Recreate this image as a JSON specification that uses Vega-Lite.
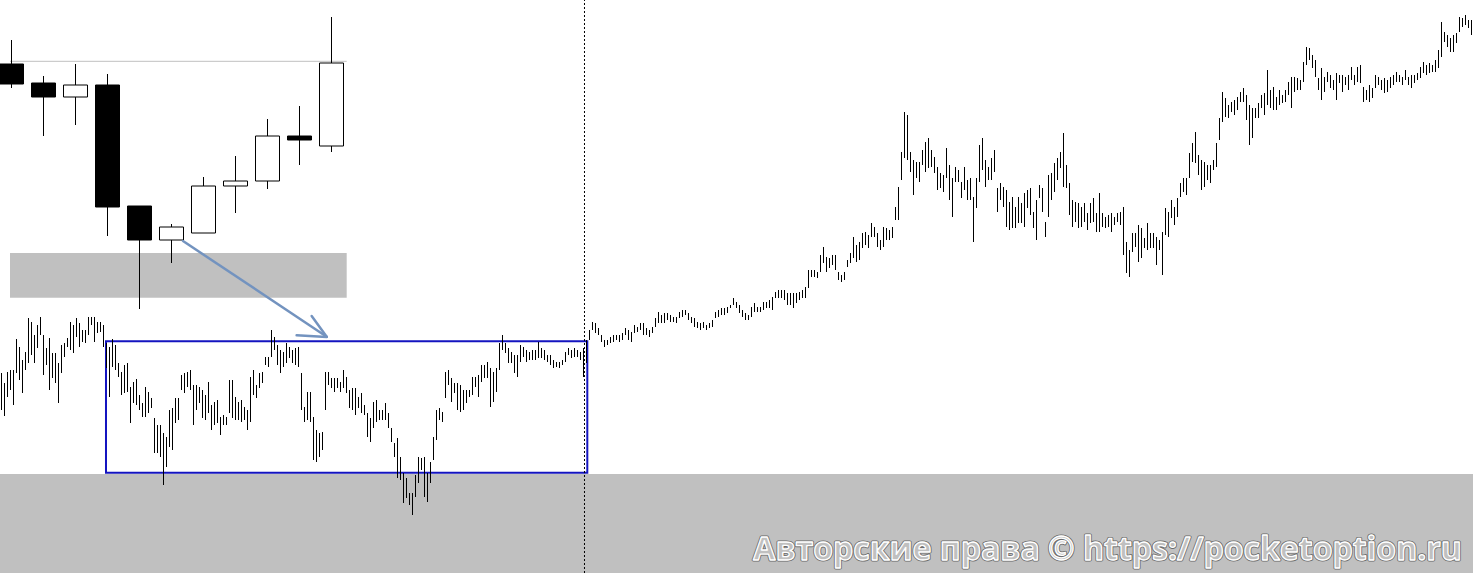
{
"$schema":"https://vega.github.io/schema/vega-lite/v6.json",
"width":1473,"height":573,"autosize":"none","padding":0,
"background":"white",
"config":{"view":{"stroke":null},"scale":{"continuousPadding":0}},
"datasets":{
"bars":[
{"t":0,"h":200,"l":163},{"t":1,"h":190,"l":157},{"t":2,"h":201,"l":176},{"t":3,"h":203,"l":183},{"t":4,"h":203,"l":168},{"t":5,"h":234,"l":200},{"t":6,"h":226,"l":193},{"t":7,"h":213,"l":180},{"t":8,"h":221,"l":203},{"t":9,"h":255,"l":210},
{"t":10,"h":251,"l":218},{"t":11,"h":238,"l":210},{"t":12,"h":248,"l":225},{"t":13,"h":256,"l":238},{"t":14,"h":238,"l":198},{"t":15,"h":225,"l":208},{"t":16,"h":235,"l":183},{"t":17,"h":220,"l":195},{"t":18,"h":220,"l":190},{"t":19,"h":210,"l":170},
{"t":20,"h":228,"l":200},{"t":21,"h":230,"l":216},{"t":22,"h":235,"l":226},{"t":23,"h":251,"l":223},{"t":24,"h":248,"l":220},{"t":25,"h":255,"l":236},{"t":26,"h":250,"l":226},{"t":27,"h":243,"l":231},{"t":28,"h":243,"l":230},{"t":29,"h":256,"l":238},
{"t":30,"h":256,"l":248},{"t":31,"h":256,"l":231},{"t":32,"h":251,"l":240},{"t":33,"h":251,"l":241},{"t":34,"h":248,"l":226},{"t":35,"h":230,"l":205},{"t":36,"h":226,"l":176},{"t":37,"h":234,"l":206},{"t":38,"h":228,"l":203},{"t":39,"h":210,"l":196},
{"t":40,"h":201,"l":178},{"t":41,"h":208,"l":180},{"t":42,"h":210,"l":181},{"t":43,"h":186,"l":150},{"t":44,"h":191,"l":170},{"t":45,"h":194,"l":168},{"t":46,"h":178,"l":163},{"t":47,"h":170,"l":156},{"t":48,"h":186,"l":156},{"t":49,"h":181,"l":160},
{"t":50,"h":175,"l":165},{"t":51,"h":155,"l":120},{"t":52,"h":148,"l":120},{"t":53,"h":148,"l":116},{"t":54,"h":140,"l":88},{"t":55,"h":136,"l":106},{"t":56,"h":163,"l":126},{"t":57,"h":165,"l":123},{"t":58,"h":175,"l":150},{"t":59,"h":175,"l":153},
{"t":60,"h":198,"l":183},{"t":61,"h":200,"l":180},{"t":62,"h":201,"l":186},{"t":63,"h":203,"l":183},{"t":64,"h":188,"l":148},{"t":65,"h":188,"l":163},{"t":66,"h":186,"l":170},{"t":67,"h":183,"l":155},{"t":68,"h":178,"l":153},{"t":69,"h":191,"l":160},
{"t":70,"h":168,"l":143},{"t":71,"h":171,"l":148},{"t":72,"h":173,"l":150},{"t":73,"h":156,"l":138},{"t":74,"h":158,"l":148},{"t":75,"h":156,"l":148},{"t":76,"h":193,"l":160},{"t":77,"h":193,"l":155},{"t":78,"h":176,"l":153},{"t":79,"h":171,"l":153},
{"t":80,"h":173,"l":151},{"t":81,"h":166,"l":153},{"t":82,"h":163,"l":143},{"t":83,"h":196,"l":151},{"t":84,"h":203,"l":178},{"t":85,"h":188,"l":175},{"t":86,"h":200,"l":185},{"t":87,"h":201,"l":190},{"t":88,"h":216,"l":208},{"t":89,"h":216,"l":206},
{"t":90,"h":243,"l":216},{"t":91,"h":236,"l":223},{"t":92,"h":228,"l":208},{"t":93,"h":223,"l":200},{"t":94,"h":221,"l":206},{"t":95,"h":230,"l":210},{"t":96,"h":226,"l":215},{"t":97,"h":223,"l":210},{"t":98,"h":225,"l":208},{"t":99,"h":226,"l":206},
{"t":100,"h":200,"l":163},{"t":101,"h":166,"l":151},{"t":102,"h":181,"l":153},{"t":103,"h":181,"l":151},{"t":104,"h":156,"l":113},{"t":105,"h":143,"l":111},{"t":106,"h":140,"l":116},{"t":107,"h":141,"l":123},{"t":108,"h":201,"l":163},{"t":109,"h":201,"l":188},
{"t":110,"h":195,"l":185},{"t":111,"h":195,"l":181},{"t":112,"h":195,"l":185},{"t":113,"h":191,"l":181},{"t":114,"h":203,"l":185},{"t":115,"h":196,"l":180},{"t":116,"h":183,"l":165},{"t":117,"h":185,"l":163},{"t":118,"h":185,"l":158},{"t":119,"h":176,"l":165},
{"t":120,"h":180,"l":160},{"t":121,"h":168,"l":158},{"t":122,"h":160,"l":136},{"t":123,"h":155,"l":131},{"t":124,"h":171,"l":145},{"t":125,"h":173,"l":151},{"t":126,"h":163,"l":153},{"t":127,"h":163,"l":153},{"t":128,"h":170,"l":153},{"t":129,"h":160,"l":145},
{"t":130,"h":145,"l":131},{"t":131,"h":130,"l":116},{"t":132,"h":135,"l":95},{"t":133,"h":116,"l":93},{"t":134,"h":100,"l":70},{"t":135,"h":95,"l":75},{"t":136,"h":80,"l":68},{"t":137,"h":80,"l":58},{"t":138,"h":98,"l":76},{"t":139,"h":116,"l":90},
{"t":140,"h":115,"l":103},{"t":141,"h":116,"l":76},{"t":142,"h":100,"l":71},{"t":143,"h":111,"l":90},{"t":144,"h":136,"l":113},{"t":145,"h":163,"l":133},{"t":146,"h":165,"l":153},{"t":147,"h":161,"l":151},{"t":148,"h":201,"l":175},{"t":149,"h":203,"l":188},
{"t":150,"h":195,"l":171},{"t":151,"h":190,"l":180},{"t":152,"h":190,"l":163},{"t":153,"h":188,"l":161},{"t":154,"h":183,"l":163},{"t":155,"h":183,"l":170},{"t":156,"h":183,"l":176},{"t":157,"h":196,"l":178},{"t":158,"h":196,"l":186},{"t":159,"h":198,"l":176},
{"t":160,"h":208,"l":191},{"t":161,"h":208,"l":195},{"t":162,"h":211,"l":195},{"t":163,"h":205,"l":166},{"t":164,"h":201,"l":171},{"t":165,"h":205,"l":181},{"t":166,"h":230,"l":203},{"t":167,"h":238,"l":223},{"t":168,"h":230,"l":220},{"t":169,"h":225,"l":210},
{"t":170,"h":221,"l":210},{"t":171,"h":218,"l":200},{"t":172,"h":218,"l":196},{"t":173,"h":228,"l":211},{"t":174,"h":226,"l":216},{"t":175,"h":223,"l":211},{"t":176,"h":221,"l":213},{"t":177,"h":223,"l":213},{"t":178,"h":223,"l":213},{"t":179,"h":231,"l":215},
{"t":180,"h":225,"l":215},{"t":181,"h":223,"l":213},{"t":182,"h":218,"l":211},{"t":183,"h":218,"l":208},{"t":184,"h":213,"l":205},{"t":185,"h":211,"l":206},{"t":186,"h":211,"l":205},{"t":187,"h":213,"l":208},{"t":188,"h":221,"l":211},{"t":189,"h":225,"l":218},
{"t":190,"h":223,"l":215},{"t":191,"h":225,"l":216},{"t":192,"h":223,"l":216},{"t":193,"h":221,"l":213},{"t":194,"h":225,"l":196},{"t":195,"h":233,"l":210},{"t":196,"h":243,"l":233},{"t":197,"h":251,"l":243},{"t":198,"h":250,"l":240},{"t":199,"h":245,"l":238},
{"t":200,"h":238,"l":231},{"t":201,"h":233,"l":226},{"t":202,"h":233,"l":228},{"t":203,"h":236,"l":230},{"t":204,"h":238,"l":231},{"t":205,"h":238,"l":233},{"t":206,"h":238,"l":231},{"t":207,"h":240,"l":233},{"t":208,"h":245,"l":238},{"t":209,"h":243,"l":233},
{"t":210,"h":241,"l":231},{"t":211,"h":248,"l":240},{"t":212,"h":246,"l":241},{"t":213,"h":250,"l":243},{"t":214,"h":250,"l":238},{"t":215,"h":245,"l":238},{"t":216,"h":243,"l":236},{"t":217,"h":246,"l":240},{"t":218,"h":255,"l":246},{"t":219,"h":261,"l":250},
{"t":220,"h":258,"l":250},{"t":221,"h":260,"l":250},{"t":222,"h":260,"l":253},{"t":223,"h":258,"l":251},{"t":224,"h":256,"l":251},{"t":225,"h":256,"l":250},{"t":226,"h":261,"l":255},{"t":227,"h":263,"l":256},{"t":228,"h":263,"l":258},{"t":229,"h":260,"l":253},
{"t":230,"h":256,"l":250},{"t":231,"h":255,"l":246},{"t":232,"h":251,"l":245},{"t":233,"h":250,"l":243},{"t":234,"h":251,"l":245},{"t":235,"h":248,"l":243},{"t":236,"h":250,"l":245},{"t":237,"h":253,"l":246},{"t":238,"h":261,"l":255},{"t":239,"h":263,"l":256},
{"t":240,"h":265,"l":258},{"t":241,"h":265,"l":258},{"t":242,"h":266,"l":260},{"t":243,"h":268,"l":265},{"t":244,"h":275,"l":268},{"t":245,"h":271,"l":265},{"t":246,"h":268,"l":260},{"t":247,"h":263,"l":256},{"t":248,"h":260,"l":253},{"t":249,"h":258,"l":253},
{"t":250,"h":266,"l":256},{"t":251,"h":270,"l":261},{"t":252,"h":266,"l":261},{"t":253,"h":266,"l":261},{"t":254,"h":271,"l":263},{"t":255,"h":271,"l":265},{"t":256,"h":273,"l":265},{"t":257,"h":276,"l":263},{"t":258,"h":281,"l":275},{"t":259,"h":283,"l":275},
{"t":260,"h":283,"l":275},{"t":261,"h":283,"l":273},{"t":262,"h":280,"l":268},{"t":263,"h":280,"l":268},{"t":264,"h":280,"l":265},{"t":265,"h":280,"l":270},{"t":266,"h":281,"l":273},{"t":267,"h":283,"l":275},{"t":268,"h":286,"l":275},{"t":269,"h":303,"l":285},
{"t":270,"h":303,"l":296},{"t":271,"h":303,"l":296},{"t":272,"h":301,"l":295},{"t":273,"h":318,"l":301},{"t":274,"h":326,"l":310},{"t":275,"h":316,"l":301},{"t":276,"h":315,"l":305},{"t":277,"h":318,"l":308},{"t":278,"h":318,"l":303},{"t":279,"h":301,"l":293},
{"t":280,"h":298,"l":291},{"t":281,"h":301,"l":293},{"t":282,"h":313,"l":306},{"t":283,"h":320,"l":310},{"t":284,"h":336,"l":315},{"t":285,"h":328,"l":311},{"t":286,"h":331,"l":313},{"t":287,"h":340,"l":325},{"t":288,"h":341,"l":328},{"t":289,"h":338,"l":325},
{"t":290,"h":350,"l":336},{"t":291,"h":346,"l":336},{"t":292,"h":340,"l":326},{"t":293,"h":333,"l":323},{"t":294,"h":346,"l":326},{"t":295,"h":345,"l":333},{"t":296,"h":343,"l":333},{"t":297,"h":346,"l":335},{"t":298,"h":366,"l":353},{"t":299,"h":386,"l":353},
{"t":300,"h":421,"l":393},{"t":301,"h":461,"l":415},{"t":302,"h":458,"l":413},{"t":303,"h":421,"l":401},{"t":304,"h":413,"l":378},{"t":305,"h":411,"l":395},{"t":306,"h":411,"l":391},{"t":307,"h":423,"l":408},{"t":308,"h":431,"l":401},{"t":309,"h":435,"l":405},
{"t":310,"h":423,"l":406},{"t":311,"h":416,"l":400},{"t":312,"h":406,"l":383},{"t":313,"h":400,"l":385},{"t":314,"h":398,"l":381},{"t":315,"h":425,"l":395},{"t":316,"h":408,"l":373},{"t":317,"h":395,"l":356},{"t":318,"h":406,"l":391},{"t":319,"h":403,"l":391},
{"t":320,"h":391,"l":375},{"t":321,"h":406,"l":383},{"t":322,"h":393,"l":373},{"t":323,"h":395,"l":373},{"t":324,"h":376,"l":331},{"t":325,"h":395,"l":365},{"t":326,"h":428,"l":391},{"t":327,"h":435,"l":403},{"t":328,"h":413,"l":386},{"t":329,"h":406,"l":393},
{"t":330,"h":415,"l":393},{"t":331,"h":423,"l":401},{"t":332,"h":385,"l":361},{"t":333,"h":390,"l":373},{"t":334,"h":386,"l":366},{"t":335,"h":383,"l":346},{"t":336,"h":371,"l":343},{"t":337,"h":376,"l":345},{"t":338,"h":366,"l":345},{"t":339,"h":376,"l":350},
{"t":340,"h":370,"l":350},{"t":341,"h":380,"l":346},{"t":342,"h":383,"l":365},{"t":343,"h":385,"l":358},{"t":344,"h":361,"l":345},{"t":345,"h":373,"l":333},{"t":346,"h":388,"l":375},{"t":347,"h":385,"l":361},{"t":348,"h":351,"l":336},{"t":349,"h":398,"l":356},
{"t":350,"h":400,"l":373},{"t":351,"h":410,"l":381},{"t":352,"h":415,"l":393},{"t":353,"h":421,"l":405},{"t":354,"h":440,"l":386},{"t":355,"h":408,"l":385},{"t":356,"h":390,"l":358},{"t":357,"h":373,"l":346},{"t":358,"h":371,"l":351},{"t":359,"h":370,"l":345},
{"t":360,"h":366,"l":346},{"t":361,"h":370,"l":351},{"t":362,"h":360,"l":343},{"t":363,"h":370,"l":350},{"t":364,"h":375,"l":351},{"t":365,"h":360,"l":341},{"t":366,"h":380,"l":341},{"t":367,"h":360,"l":346},{"t":368,"h":356,"l":345},{"t":369,"h":358,"l":346},
{"t":370,"h":360,"l":341},{"t":371,"h":356,"l":348},{"t":372,"h":360,"l":351},{"t":373,"h":361,"l":348},{"t":374,"h":366,"l":318},{"t":375,"h":331,"l":300},{"t":376,"h":323,"l":296},{"t":377,"h":340,"l":321},{"t":378,"h":340,"l":326},{"t":379,"h":348,"l":311},
{"t":380,"h":345,"l":315},{"t":381,"h":335,"l":325},{"t":382,"h":350,"l":323},{"t":383,"h":340,"l":325},{"t":384,"h":340,"l":325},{"t":385,"h":336,"l":308},{"t":386,"h":333,"l":323},{"t":387,"h":341,"l":298},{"t":388,"h":365,"l":338},{"t":389,"h":361,"l":336},
{"t":390,"h":373,"l":355},{"t":391,"h":366,"l":348},{"t":392,"h":375,"l":356},{"t":393,"h":390,"l":376},{"t":394,"h":395,"l":381},{"t":395,"h":395,"l":378},{"t":396,"h":420,"l":395},{"t":397,"h":430,"l":411},{"t":398,"h":441,"l":410},{"t":399,"h":418,"l":398},
{"t":400,"h":413,"l":383},{"t":401,"h":411,"l":386},{"t":402,"h":408,"l":393},{"t":403,"h":408,"l":390},{"t":404,"h":413,"l":403},{"t":405,"h":430,"l":406},{"t":406,"h":455,"l":433},{"t":407,"h":481,"l":451},{"t":408,"h":475,"l":456},{"t":409,"h":468,"l":455},
{"t":410,"h":471,"l":461},{"t":411,"h":473,"l":458},{"t":412,"h":476,"l":463},{"t":413,"h":481,"l":471},{"t":414,"h":485,"l":471},{"t":415,"h":478,"l":453},{"t":416,"h":468,"l":428},{"t":417,"h":465,"l":435},{"t":418,"h":465,"l":455},{"t":419,"h":470,"l":455},
{"t":420,"h":478,"l":465},{"t":421,"h":480,"l":458},{"t":422,"h":503,"l":468},{"t":423,"h":483,"l":465},{"t":424,"h":486,"l":463},{"t":425,"h":476,"l":463},{"t":426,"h":483,"l":468},{"t":427,"h":478,"l":470},{"t":428,"h":483,"l":471},{"t":429,"h":491,"l":478},
{"t":430,"h":496,"l":465},{"t":431,"h":496,"l":481},{"t":432,"h":495,"l":483},{"t":433,"h":493,"l":483},{"t":434,"h":511,"l":491},{"t":435,"h":526,"l":508},{"t":436,"h":525,"l":513},{"t":437,"h":518,"l":505},{"t":438,"h":513,"l":496},{"t":439,"h":495,"l":483},
{"t":440,"h":505,"l":473},{"t":441,"h":496,"l":481},{"t":442,"h":501,"l":491},{"t":443,"h":498,"l":485},{"t":444,"h":493,"l":483},{"t":445,"h":500,"l":473},{"t":446,"h":498,"l":490},{"t":447,"h":498,"l":481},{"t":448,"h":496,"l":488},{"t":449,"h":498,"l":483},
{"t":450,"h":506,"l":493},{"t":451,"h":498,"l":488},{"t":452,"h":506,"l":491},{"t":453,"h":508,"l":490},{"t":454,"h":486,"l":471},{"t":455,"h":483,"l":473},{"t":456,"h":488,"l":471},{"t":457,"h":485,"l":475},{"t":458,"h":498,"l":485},{"t":459,"h":496,"l":488},
{"t":460,"h":493,"l":483},{"t":461,"h":495,"l":480},{"t":462,"h":493,"l":481},{"t":463,"h":496,"l":485},{"t":464,"h":498,"l":488},{"t":465,"h":501,"l":491},{"t":466,"h":498,"l":491},{"t":467,"h":496,"l":488},{"t":468,"h":503,"l":493},{"t":469,"h":496,"l":488},
{"t":470,"h":498,"l":485},{"t":471,"h":498,"l":490},{"t":472,"h":500,"l":493},{"t":473,"h":506,"l":495},{"t":474,"h":511,"l":500},{"t":475,"h":508,"l":498},{"t":476,"h":510,"l":500},{"t":477,"h":508,"l":501},{"t":478,"h":513,"l":501},{"t":479,"h":523,"l":505},
{"t":480,"h":551,"l":516},{"t":481,"h":541,"l":531},{"t":482,"h":538,"l":526},{"t":483,"h":535,"l":521},{"t":484,"h":538,"l":521},{"t":485,"h":540,"l":530},{"t":486,"h":556,"l":541},{"t":487,"h":555,"l":546},{"t":488,"h":558,"l":548},{"t":489,"h":553,"l":545},
{"t":490,"h":553,"l":538}
],
"candles":[
{"i":0,"o":509,"h":533,"l":485,"cl":489},{"i":1,"o":490,"h":497,"l":437,"cl":476},{"i":2,"o":476,"h":509,"l":448,"cl":488},{"i":3,"o":488,"h":499,"l":337,"cl":366},{"i":4,"o":367,"h":367,"l":264,"cl":333},{"i":5,"o":333,"h":349,"l":310,"cl":346},{"i":6,"o":340,"h":396,"l":340,"cl":387},{"i":7,"o":387,"h":417,"l":360,"cl":392},{"i":8,"o":392,"h":454,"l":384,"cl":437},{"i":9,"o":437,"h":467,"l":408,"cl":433},{"i":10,"o":427,"h":556,"l":421,"cl":510}
],
"arrow":[
{"i0":5.36,"p0":332,"i1":9.85,"p1":236.3},{"i0":9.38,"p0":257,"i1":9.85,"p1":236.3},{"i0":8.91,"p0":237.7,"i1":9.85,"p1":236}
]
},
"layer":[
{"layer":[
{"data":{"values":[{"t0":-0.5,"t1":490.5,"lo":0,"hi":99}]},
"mark":{"type":"rect","fill":"#c0c0c0"},
"encoding":{"x":{"field":"t0","type":"quantitative","axis":null,"scale":{"domain":[-0.5,490.5],"nice":false,"zero":false,"padding":0}},"x2":{"field":"t1"},"y":{"field":"lo","type":"quantitative","axis":null,"scale":{"domain":[0,573],"nice":false,"zero":false,"padding":0}},"y2":{"field":"hi"}}},
{"data":{"values":[{"t0":34.83,"t1":195.27,"lo":100.3,"hi":231.7}]},
"mark":{"type":"rect","fillOpacity":0,"stroke":"#1414c0","strokeWidth":2},
"encoding":{"x":{"field":"t0","type":"quantitative","axis":null,"scale":{"domain":[-0.5,490.5],"nice":false,"zero":false,"padding":0}},"x2":{"field":"t1"},"y":{"field":"lo","type":"quantitative","axis":null,"scale":{"domain":[0,573],"nice":false,"zero":false,"padding":0}},"y2":{"field":"hi"}}},
{"data":{"name":"bars"},
"mark":{"type":"rule","color":"black","strokeWidth":1},
"encoding":{"x":{"field":"t","type":"quantitative","axis":null,"scale":{"domain":[-0.5,490.5],"nice":false,"zero":false,"padding":0}},"y":{"field":"l","type":"quantitative","axis":null,"scale":{"domain":[0,573],"nice":false,"zero":false,"padding":0}},"y2":{"field":"h"}}},
{"data":{"values":[{"t":194.33,"lo":0,"hi":573}]},
"mark":{"type":"rule","color":"black","strokeWidth":1,"strokeDash":[2,2]},
"encoding":{"x":{"field":"t","type":"quantitative","axis":null,"scale":{"domain":[-0.5,490.5],"nice":false,"zero":false,"padding":0}},"y":{"field":"lo","type":"quantitative","axis":null,"scale":{"domain":[0,573],"nice":false,"zero":false,"padding":0}},"y2":{"field":"hi"}}},
{"data":{"values":[{"t":486.8,"p":13,"label":"Авторские права © https://pocketoption.ru"}]},
"mark":{"type":"text","align":"right","baseline":"alphabetic","font":"Open Sans","fontWeight":"bold","fontSize":32,"fill":"#6a6a6a","stroke":"#6a6a6a","strokeWidth":3,"strokeJoin":"round"},
"encoding":{"x":{"field":"t","type":"quantitative","axis":null,"scale":{"domain":[-0.5,490.5],"nice":false,"zero":false,"padding":0}},"y":{"field":"p","type":"quantitative","axis":null,"scale":{"domain":[0,573],"nice":false,"zero":false,"padding":0}},"text":{"field":"label"}}},
{"data":{"values":[{"t":486.8,"p":13,"label":"Авторские права © https://pocketoption.ru"}]},
"mark":{"type":"text","align":"right","baseline":"alphabetic","font":"Open Sans","fontWeight":"bold","fontSize":32,"fill":"#c0c0c0","stroke":"white","strokeWidth":1.3,"strokeJoin":"round"},
"encoding":{"x":{"field":"t","type":"quantitative","axis":null,"scale":{"domain":[-0.5,490.5],"nice":false,"zero":false,"padding":0}},"y":{"field":"p","type":"quantitative","axis":null,"scale":{"domain":[0,573],"nice":false,"zero":false,"padding":0}},"text":{"field":"label"}}}
]},
{"layer":[
{"data":{"values":[{"i0":-0.047,"i1":10.475,"p":511.7}]},
"mark":{"type":"rule","color":"#c0c0c0","strokeWidth":1},
"encoding":{"x":{"field":"i0","type":"quantitative","axis":null,"scale":{"domain":[-0.359375,45.671875],"nice":false,"zero":false,"padding":0}},"x2":{"field":"i1"},"y":{"field":"p","type":"quantitative","axis":null,"scale":{"domain":[0,573],"nice":false,"zero":false,"padding":0}}}},
{"data":{"values":[{"i0":-0.047,"i1":10.475,"lo":275.3,"hi":320}]},
"mark":{"type":"rect","fill":"#c0c0c0"},
"encoding":{"x":{"field":"i0","type":"quantitative","axis":null,"scale":{"domain":[-0.359375,45.671875],"nice":false,"zero":false,"padding":0}},"x2":{"field":"i1"},"y":{"field":"lo","type":"quantitative","axis":null,"scale":{"domain":[0,573],"nice":false,"zero":false,"padding":0}},"y2":{"field":"hi"}}},
{"data":{"name":"candles"},
"mark":{"type":"rule","color":"black","strokeWidth":1},
"encoding":{"x":{"field":"i","type":"quantitative","axis":null,"scale":{"domain":[-0.359375,45.671875],"nice":false,"zero":false,"padding":0}},"y":{"field":"l","type":"quantitative","axis":null,"scale":{"domain":[0,573],"nice":false,"zero":false,"padding":0}},"y2":{"field":"h"}}},
{"data":{"name":"candles"},
"mark":{"type":"bar","size":24,"stroke":"black","strokeWidth":1},
"encoding":{"x":{"field":"i","type":"quantitative","axis":null,"scale":{"domain":[-0.359375,45.671875],"nice":false,"zero":false,"padding":0}},"y":{"field":"o","type":"quantitative","axis":null,"scale":{"domain":[0,573],"nice":false,"zero":false,"padding":0}},"y2":{"field":"cl"},"fill":{"condition":{"test":"datum.o > datum.cl","value":"black"},"value":"white"}}},
{"data":{"name":"arrow"},
"mark":{"type":"rule","color":"#7393bf","strokeWidth":2.5,"strokeCap":"round"},
"encoding":{"x":{"field":"i0","type":"quantitative","axis":null,"scale":{"domain":[-0.359375,45.671875],"nice":false,"zero":false,"padding":0}},"x2":{"field":"i1"},"y":{"field":"p0","type":"quantitative","axis":null,"scale":{"domain":[0,573],"nice":false,"zero":false,"padding":0}},"y2":{"field":"p1"}}}
]}
],
"resolve":{"scale":{"x":"independent"}}
}
